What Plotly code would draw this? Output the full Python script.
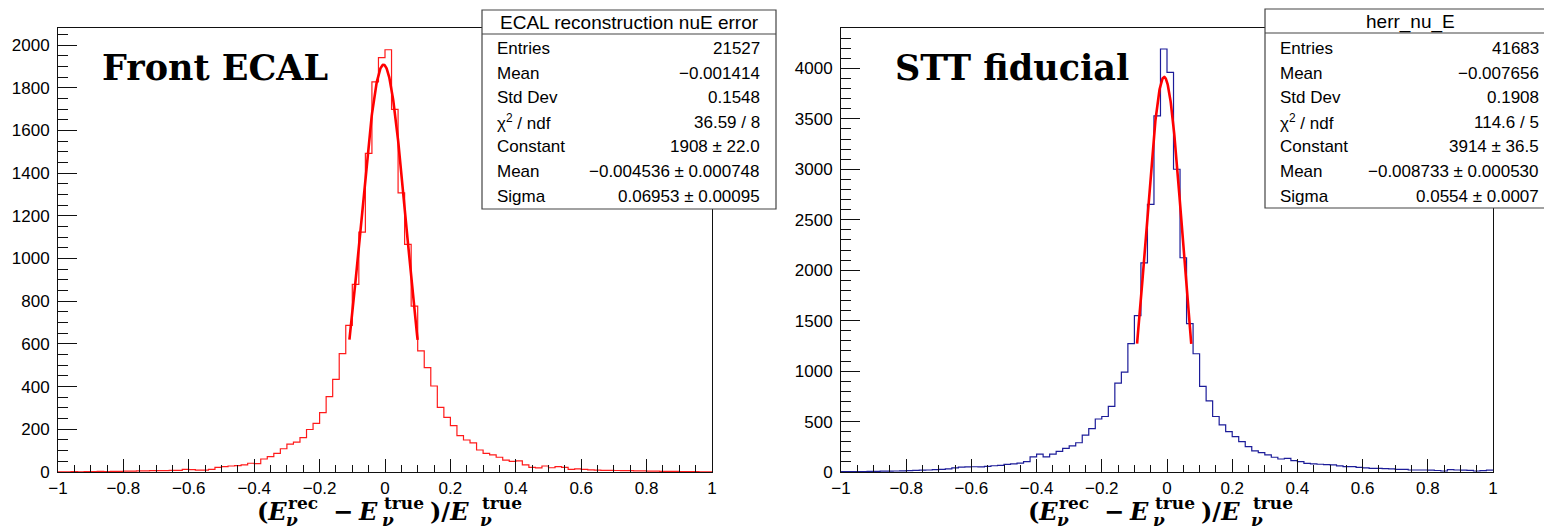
import numpy as np
import plotly.graph_objects as go

# ---------------- data ----------------
bin_lo, bin_hi, n_bins = -1.0, 1.0, 100

ecal_counts = [
    1, 1, 2, 1, 2, 2, 3, 2, 3, 3,
    4, 4, 5, 5, 6, 6, 6, 8, 8, 12,
    11, 9, 9, 12, 22, 25, 28, 30, 33, 41,
    39, 61, 72, 87, 109, 131, 140, 161, 199, 228,
    278, 353, 434, 555, 687, 879, 1124, 1493, 1828, 1941,
    1978, 1699, 1308, 1066, 777, 567, 489, 403, 303, 256,
    217, 170, 150, 136, 103, 87, 80, 69, 56, 50,
    52, 33, 22, 19, 28, 20, 25, 22, 12, 15,
    12, 10, 9, 8, 8, 7, 6, 6, 5, 5,
    4, 4, 3, 3, 3, 2, 2, 2, 1, 1,
]

stt_counts = [
    3, 4, 4, 5, 6, 7, 8, 9, 10, 12,
    14, 16, 18, 20, 24, 27, 30, 40, 48, 50,
    52, 50, 55, 62, 66, 75, 80, 88, 103, 150,
    178, 150, 178, 205, 235, 258, 290, 365, 430, 525,
    550, 650, 881, 990, 1272, 1550, 2073, 2652, 3530, 4192,
    3960, 3000, 2123, 1470, 1172, 848, 705, 550, 467, 401,
    351, 301, 252, 209, 192, 169, 146, 129, 136, 113,
    103, 86, 80, 77, 73, 70, 60, 53, 53, 46,
    40, 36, 36, 33, 30, 26, 26, 20, 20, 20,
    18, 15, 10, 24, 20, 18, 16, 10, 13, 18,
]

# Gaussian fit parameters (Constant, Mean, Sigma) and fit ranges
ecal_fit_params = [1908.0, -0.004536, 0.06953]
ecal_fit_range = [-0.1088, 0.0998]
stt_fit_params = [3914.0, -0.008733, 0.0554]
stt_fit_range = [-0.0918, 0.0744]

ecal_stat_title = "ECAL reconstruction nuE error"
ecal_stat_labels = ["Entries", "Mean", "Std Dev", "χ<sup>2</sup> / ndf", "Constant", "Mean", "Sigma"]
ecal_stat_values = ["21527", "−0.001414", "0.1548", "36.59 / 8", "1908 ± 22.0",
                    "−0.004536 ± 0.000748", "0.06953 ± 0.00095"]

stt_stat_title = "herr_nu_E"
stt_stat_labels = ["Entries", "Mean", "Std Dev", "χ<sup>2</sup> / ndf", "Constant", "Mean", "Sigma"]
stt_stat_values = ["41683", "−0.007656", "0.1908", "114.6 / 5", "3914 ± 36.5",
                   "−0.008733 ± 0.000530", "0.0554 ± 0.0007"]

panel_labels = ["Front ECAL", "STT fiducial"]

# ---------------- layout helpers ----------------
W, H = 1544, 529
OFF = 0  # body margin removed by post_script


def px(x):
    return (x - OFF) / W


def py(y):
    return 1 - (y - OFF) / H


edges = np.linspace(bin_lo, bin_hi, n_bins + 1)


def step_xy(counts):
    xs = list(edges[:-1]) + [bin_hi]
    ys = list(counts) + [counts[-1]]
    return xs, ys


def gauss_curve(params, rng):
    c, m, s = params
    xx = np.linspace(rng[0], rng[1], 200)
    return xx, c * np.exp(-0.5 * ((xx - m) / s) ** 2)


fig = go.Figure()

hx, hy = step_xy(ecal_counts)
fig.add_trace(go.Scatter(x=hx, y=hy, mode="lines", line=dict(color="#ff1a1a", width=1.2, shape="hv"),
                         xaxis="x", yaxis="y", showlegend=False, hoverinfo="skip"))
fx, fy = gauss_curve(ecal_fit_params, ecal_fit_range)
fig.add_trace(go.Scatter(x=fx, y=fy, mode="lines", line=dict(color="#ff0000", width=2.6),
                         xaxis="x", yaxis="y", showlegend=False, hoverinfo="skip"))

hx, hy = step_xy(stt_counts)
fig.add_trace(go.Scatter(x=hx, y=hy, mode="lines", line=dict(color="#1c1c99", width=1.2, shape="hv"),
                         xaxis="x2", yaxis="y2", showlegend=False, hoverinfo="skip"))
fx, fy = gauss_curve(stt_fit_params, stt_fit_range)
fig.add_trace(go.Scatter(x=fx, y=fy, mode="lines", line=dict(color="#ff0000", width=2.6),
                         xaxis="x2", yaxis="y2", showlegend=False, hoverinfo="skip"))

tickfont = dict(family="Liberation Sans, Arial, sans-serif", size=17, color="black")


def xaxis_cfg(dom, anchor):
    return dict(domain=dom, anchor=anchor, range=[-1, 1], tick0=-1, dtick=0.2, automargin=False,
                ticks="inside", ticklen=13, tickwidth=1, tickcolor="#111",
                minor=dict(tick0=-1, dtick=0.05, ticks="inside", ticklen=7, tickwidth=1,
                           tickcolor="#111", showgrid=False),
                showline=True, linecolor="#111", linewidth=1, mirror=True,
                showgrid=False, zeroline=False, tickfont=tickfont, ticklabelstandoff=1)


def yaxis_cfg(dom, anchor, top, dt, mdt):
    return dict(domain=dom, anchor=anchor, range=[0, top], tick0=0, dtick=dt, automargin=False,
                ticks="inside", ticklen=19, tickwidth=1, tickcolor="#111",
                minor=dict(tick0=0, dtick=mdt, ticks="inside", ticklen=10, tickwidth=1,
                           tickcolor="#111", showgrid=False),
                showline=True, linecolor="#111", linewidth=1, mirror=True,
                showgrid=False, zeroline=False, tickfont=tickfont, ticklabelstandoff=4)


ydom = [py(472), py(28)]
fig.update_layout(
    width=W, height=H,
    margin=dict(l=0, r=0, t=0, b=0, pad=0, autoexpand=False),
    paper_bgcolor="white", plot_bgcolor="white",
    xaxis=xaxis_cfg([px(58), px(712)], "y"),
    yaxis=yaxis_cfg(ydom, "x", 2080, 200, 50),
    xaxis2=xaxis_cfg([px(841), px(1493)], "y2"),
    yaxis2=yaxis_cfg(ydom, "x2", 4400, 500, 100),
    showlegend=False,
    hovermode=False,
)

shapes = []
annotations = []

# panel labels
annotations.append(dict(x=px(100), y=py(67), xref="paper", yref="paper", xanchor="left", yanchor="middle",
                        text="<b>" + panel_labels[0] + "</b>", showarrow=False,
                        font=dict(family="DejaVu Serif, serif", size=35, color="black")))
annotations.append(dict(x=px(893), y=py(67), xref="paper", yref="paper", xanchor="left", yanchor="middle",
                        text="<b>" + panel_labels[1] + "</b>", showarrow=False,
                        font=dict(family="DejaVu Serif, serif", size=35, color="black")))


def stat_box(x0, x1, y0, y1, ysep, title, labels, values, lab_x, val_x, title_cx):
    shapes.append(dict(type="rect", xref="paper", yref="paper", x0=px(x0), x1=px(x1), y0=py(y1), y1=py(y0),
                       line=dict(color="#444", width=1.2), fillcolor="white", layer="above"))
    shapes.append(dict(type="line", xref="paper", yref="paper", x0=px(x0), x1=px(x1), y0=py(ysep), y1=py(ysep),
                       line=dict(color="#444", width=1.2), layer="above"))
    annotations.append(dict(x=px(title_cx), y=py((y0 + ysep) / 2 + 0.5), xref="paper", yref="paper",
                            xanchor="center", yanchor="middle", text=title, showarrow=False,
                            font=dict(family="Liberation Sans, Arial, sans-serif", size=19, color="black")))
    for i, (lab, val) in enumerate(zip(labels, values)):
        yy = 48.5 + 24.6 * i
        annotations.append(dict(x=px(lab_x), y=py(yy), xref="paper", yref="paper", xanchor="left",
                                yanchor="middle", text=lab, showarrow=False,
                                font=dict(family="Liberation Sans, Arial, sans-serif", size=17, color="black")))
        annotations.append(dict(x=px(val_x), y=py(yy), xref="paper", yref="paper", xanchor="right",
                                yanchor="middle", text=val, showarrow=False,
                                font=dict(family="Liberation Sans, Arial, sans-serif", size=17, color="black")))


stat_box(482, 776, 10, 209, 34, ecal_stat_title, ecal_stat_labels, ecal_stat_values, 495, 762, 629)
stat_box(1265, 1570, 9, 208, 33, stt_stat_title, stt_stat_labels, stt_stat_values, 1278, 1541, 1410)

# x-axis titles built from pieces: (text, x px, kind)
title_pieces = [
    ("<b>(<i>E</i></b>", 255, "main"),
    ("<b>rec</b>", 286, "sup"),
    ("<b><i>ν</i></b>", 284, "sub"),
    ("<b>−</b>", 331, "main"),
    ("<b><i>E</i></b>", 356, "main"),
    ("<b>true</b>", 382, "sup"),
    ("<b><i>ν</i></b>", 380, "sub"),
    ("<b>)/<i>E</i></b>", 428, "main"),
    ("<b>true</b>", 480, "sup"),
    ("<b><i>ν</i></b>", 478, "sub"),
]
kind_style = {"main": (24, 511), "sup": (17, 503), "sub": (17, 520)}
for off in (0, 771):
    for txt, xx, kind in title_pieces:
        size, yy = kind_style[kind]
        annotations.append(dict(x=px(xx + off), y=py(yy), xref="paper", yref="paper", xanchor="left",
                                yanchor="middle", text=txt, showarrow=False,
                                font=dict(family="DejaVu Serif, serif", size=size, color="black")))

fig.update_layout(shapes=shapes, annotations=annotations)
fig.write_html("out.html", config={"displayModeBar": False, "staticPlot": True},
               post_script="document.body.style.margin='0';document.body.style.overflow='hidden';")
